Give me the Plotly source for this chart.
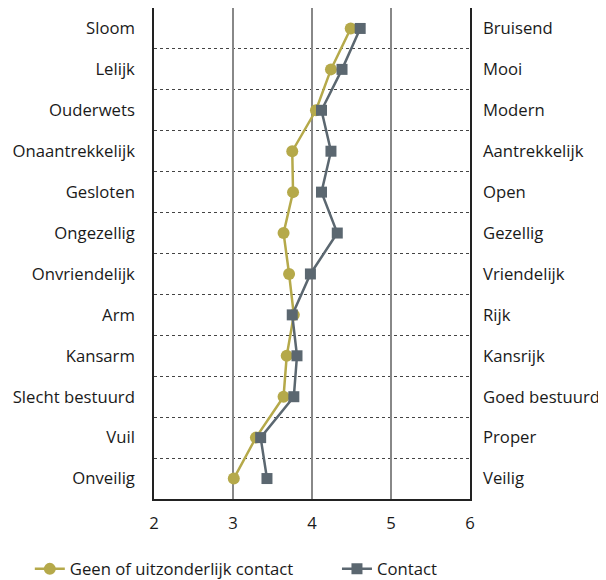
import plotly.graph_objects as go

left_labels = ["Sloom", "Lelijk", "Ouderwets", "Onaantrekkelijk", "Gesloten", "Ongezellig",
               "Onvriendelijk", "Arm", "Kansarm", "Slecht bestuurd", "Vuil", "Onveilig"]
right_labels = ["Bruisend", "Mooi", "Modern", "Aantrekkelijk", "Open", "Gezellig",
                "Vriendelijk", "Rijk", "Kansrijk", "Goed bestuurd", "Proper", "Veilig"]
geen_contact = [4.49, 4.24, 4.05, 3.75, 3.76, 3.64, 3.71, 3.77, 3.68, 3.64, 3.29, 3.01]
contact = [4.61, 4.38, 4.12, 4.24, 4.12, 4.32, 3.98, 3.75, 3.81, 3.77, 3.35, 3.43]
x_ticks = [2, 3, 4, 5, 6]

pos = list(range(len(left_labels)))
gold = "#b5a94a"
grey = "#5b6770"
font = "Open Sans, Noto Sans, sans-serif"
fs = 16.7

fig = go.Figure()
fig.add_trace(go.Scatter(x=geen_contact, y=pos, mode="lines+markers",
                         name="Geen of uitzonderlijk contact", legend="legend",
                         line=dict(color=gold, width=2.5),
                         marker=dict(symbol="circle", size=12, color=gold)))
fig.add_trace(go.Scatter(x=contact, y=pos, mode="lines+markers", name="Contact",
                         legend="legend2",
                         line=dict(color=grey, width=2.5),
                         marker=dict(symbol="square", size=11, color=grey)))
fig.add_trace(go.Scatter(x=contact, y=pos, yaxis="y2", mode="markers",
                         marker=dict(opacity=0), showlegend=False, hoverinfo="skip"))

rng = [len(pos) - 0.5, -0.5]
fig.update_layout(
    width=606, height=620,
    margin=dict(l=146, r=144, t=0, b=129),
    paper_bgcolor="white", plot_bgcolor="white",
    font=dict(family=font, size=fs, color="#1a1a1a"),
    xaxis=dict(range=[2, 6], tickvals=x_ticks, showgrid=True, gridcolor="#888888",
               gridwidth=2, zeroline=False, showline=True, linecolor="#222222",
               linewidth=1.5, mirror=True, ticks="", ticklen=0, automargin=False,
               ticklabelstandoff=8),
    yaxis=dict(range=rng, tickvals=pos, ticktext=left_labels, showgrid=False,
               zeroline=False, showline=True, linecolor="#222222", linewidth=1.5,
               mirror=True, ticks="", ticklabelstandoff=14, automargin=False,
               minor=dict(tick0=0.5, dtick=1, showgrid=True, gridcolor="#444444",
                          gridwidth=1, griddash="dot")),
    yaxis2=dict(range=rng, overlaying="y", side="right", tickvals=pos,
                ticktext=right_labels, showgrid=False, zeroline=False, ticks="",
                ticklabelstandoff=12, automargin=False),
    legend=dict(orientation="h", x=-0.393, xanchor="left", y=-0.1426, yanchor="middle",
                font=dict(size=fs)),
    legend2=dict(orientation="h", x=0.579, xanchor="left", y=-0.1426, yanchor="middle",
                 font=dict(size=fs)),
)
fig.write_html("out.html")
